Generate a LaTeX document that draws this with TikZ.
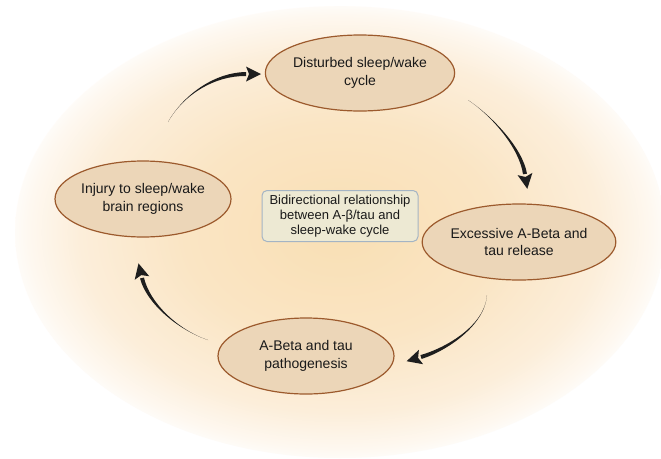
\documentclass[tikz,border=0pt]{standalone}
\usepackage{fontspec}
\setmainfont{Liberation Sans}
\usetikzlibrary{shapes.geometric,calc}

\definecolor{stagefill}{HTML}{ECD6B8}
\definecolor{stageline}{HTML}{9C5A2D}
\definecolor{corefill}{HTML}{EDE9D3}
\definecolor{coreline}{HTML}{A4B4C4}
\definecolor{arrowcol}{HTML}{1E1E1E}
\definecolor{glowA}{HTML}{F9DFB4}
\definecolor{glowB}{HTML}{FAE5C4}
\definecolor{glowC}{HTML}{FCEEDA}
\definecolor{glowD}{HTML}{FEF8F0}

\pgfdeclareradialshading{glow}{\pgfpoint{0bp}{0bp}}{%
  color(0bp)=(glowA); color(12bp)=(glowB); color(20bp)=(glowC);
  color(24bp)=(glowD); color(26bp)=(white); color(50bp)=(white)}

% tapered arrow: start, control 1, control 2, base of the head
\newcommand{\cyclearrow}[4]{%
  \fill[arrowcol] (#1) .. controls (#2) and ($(#3)!1.6pt!-90:(#4)$) .. ($(#4)!2pt!90:(#3)$)
    -- ($(#4)!2pt!-90:(#3)$) .. controls ($(#3)!1.6pt!90:(#4)$) and (#2) .. (#1) -- cycle;
  \fill[arrowcol] ($(#4)!-15pt!(#3)$) -- ($(#4)!7.5pt!90:(#3)$)
    -- ($(#4)!-3pt!(#3)$) -- ($(#4)!7.5pt!-90:(#3)$) -- cycle;
}

\begin{document}
\begin{tikzpicture}[x=1pt,y=-1pt,
	stage/.style={ellipse,draw=stageline,line width=1.2pt,fill=stagefill,
		minimum width=176pt,minimum height=76pt,inner sep=0pt,align=center,
		text=black!90,font=\fontsize{14}{17.5}\selectfont},
	core/.style={rectangle,rounded corners=5pt,draw=coreline,line width=1pt,
		fill=corefill,minimum width=156pt,minimum height=51pt,inner sep=0pt,
		align=center,text=black!90,font=\fontsize{13}{14.7}\selectfont}
]

	\fill[white] (0,0) rectangle (661,458);
	\useasboundingbox (0,0) rectangle (661,458);
	\shade[shading=glow] (340,232) ellipse [x radius=325, y radius=226];

	\node[stage] (sleep) at (360,73) {Disturbed sleep/wake\\cycle};
	\node[stage] (release) at (519,242) {Excessive A-Beta and\\tau release};
	\node[stage] (patho) at (306,356) {A-Beta and tau\\pathogenesis};
	\node[stage] (injury) at (143,199) {Injury to sleep/wake\\brain regions};
	\node[core] (bidir) at (340,216) {Bidirectional relationship\\between A-β/tau and\\sleep-wake cycle};

	% injury -> sleep
	\coordinate (a1s) at (168,122); \coordinate (a1c) at (184,94);
	\coordinate (a1d) at (215,74);  \coordinate (a1e) at (246,74);
	% sleep -> release
	\coordinate (a2s) at (468,100); \coordinate (a2c) at (492,116);
	\coordinate (a2d) at (521,148); \coordinate (a2e) at (525,174);
	% release -> patho
	\coordinate (a3s) at (487,295); \coordinate (a3c) at (485,326);
	\coordinate (a3d) at (445,350); \coordinate (a3e) at (421,357);
	% patho -> injury
	\coordinate (a4s) at (208,340); \coordinate (a4c) at (178,330);
	\coordinate (a4d) at (148,303); \coordinate (a4e) at (142,278);

	\foreach \k in {1,...,4} {
		\cyclearrow{a\k s}{a\k c}{a\k d}{a\k e}
	}
\end{tikzpicture}
\end{document}
